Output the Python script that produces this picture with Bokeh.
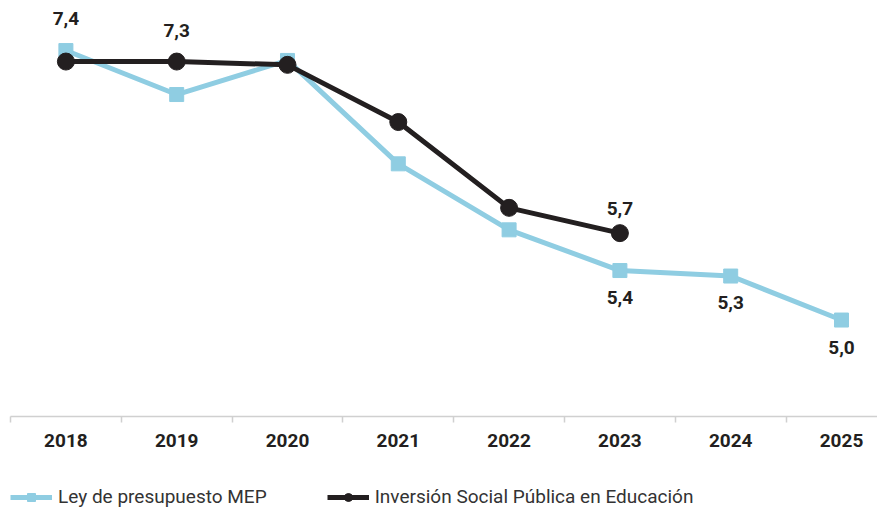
from bokeh.plotting import figure
from bokeh.layouts import column
from bokeh.models import Range1d, FixedTicker, Legend, LegendItem, ColumnDataSource
from bokeh.core.properties import value
from bokeh.embed import file_html
from bokeh.resources import INLINE

years = ["2018", "2019", "2020", "2021", "2022", "2023", "2024", "2025"]
ley_mep = [7.42, 7.02, 7.33, 6.39, 5.79, 5.42, 5.37, 4.97]
isp_educ = [7.32, 7.32, 7.29, 6.77, 5.99, 5.76]
series_names = ["Ley de presupuesto MEP", "Inversión Social Pública en Educación"]

label_x = [0, 1, 5, 5, 6, 7]
label_y = [7.42, 7.32, 5.76, 5.42, 5.37, 4.97]
label_txt = ["7,4", "7,3", "5,7", "5,4", "5,3", "5,0"]
label_off = [-32, -31, -25, 27, 26, 27]

FONT = "Roboto"
BLUE = "#8fcde2"
DARK = "#231f20"

xs = list(range(len(years)))
xs_isp = xs[:len(isp_educ)]

p = figure(frame_width=867, frame_height=416,
           output_backend="svg", toolbar_location=None,
           x_range=Range1d(-0.5, 7.325), y_range=Range1d(4.093, 7.875),
           min_border_left=10, min_border_right=0, min_border_top=0,
           min_border_bottom=0)
p.outline_line_color = None
p.xgrid.visible = False
p.ygrid.visible = False
p.yaxis.visible = False
p.background_fill_color = "white"
p.border_fill_color = "white"

p.line(xs, ley_mep, line_color=BLUE, line_width=5)
p.scatter(xs, ley_mep, marker="square", size=14, fill_color=BLUE, line_color=BLUE)
p.line(xs_isp, isp_educ, line_color=DARK, line_width=5)
p.scatter(xs_isp, isp_educ, marker="circle", size=17, fill_color=DARK, line_color=DARK)

src = ColumnDataSource(dict(x=label_x, y=label_y, t=label_txt, o=label_off))
p.text(x="x", y="y", text="t", y_offset="o", source=src, text_align="center",
       text_baseline="middle", text_font=value(FONT), text_font_style="bold",
       text_font_size="19px", text_color=DARK)

ax = p.xaxis[0]
ax.ticker = FixedTicker(ticks=xs, minor_ticks=[i - 0.5 for i in range(len(years) + 1)])
ax.major_label_overrides = {i: y for i, y in enumerate(years)}
ax.axis_line_color = "#d0d0d0"
ax.axis_line_width = 1.5
ax.major_tick_line_color = None
ax.minor_tick_line_color = "#d0d0d0"
ax.minor_tick_line_width = 1.5
ax.minor_tick_out = 6
ax.minor_tick_in = 0
ax.major_tick_out = 0
ax.major_tick_in = 0
ax.major_label_standoff = 11
ax.major_label_text_font = FONT
ax.major_label_text_font_style = "bold"
ax.major_label_text_font_size = "19px"
ax.major_label_text_color = DARK

# legend strip: same series, drawn outside this strip's visible ranges so only the legend shows
lg = figure(frame_width=867, frame_height=62, output_backend="svg", toolbar_location=None,
            x_range=Range1d(0, 1), y_range=Range1d(0, 1),
            min_border_left=10, min_border_right=0, min_border_top=0, min_border_bottom=0)
lg.axis.visible = False
lg.grid.visible = False
lg.outline_line_color = None
lg.background_fill_color = "white"
lg.border_fill_color = "white"
l1l = lg.line(xs, ley_mep, line_color=BLUE, line_width=5)
l1m = lg.scatter(xs, ley_mep, marker="square", size=14, fill_color=BLUE, line_color=BLUE)
l2l = lg.line(xs_isp, isp_educ, line_color=DARK, line_width=5)
l2m = lg.scatter(xs_isp, isp_educ, marker="circle", size=17, fill_color=DARK, line_color=DARK)

legend = Legend(items=[
    LegendItem(label=series_names[0], renderers=[l1l, l1m]),
    LegendItem(label=series_names[1], renderers=[l2l, l2m]),
], orientation="horizontal", location=(0, 3))
legend.label_text_font = FONT
legend.label_text_font_size = "19px"
legend.label_text_color = "#333333"
legend.glyph_width = 42
legend.glyph_height = 20
legend.label_standoff = 6
legend.spacing = 60
legend.padding = 0
legend.margin = 0
legend.border_line_color = None
legend.background_fill_alpha = 0
lg.add_layout(legend, "center")

layout = column(p, lg, spacing=0)
open("out.html", "w").write(file_html(layout, INLINE))
